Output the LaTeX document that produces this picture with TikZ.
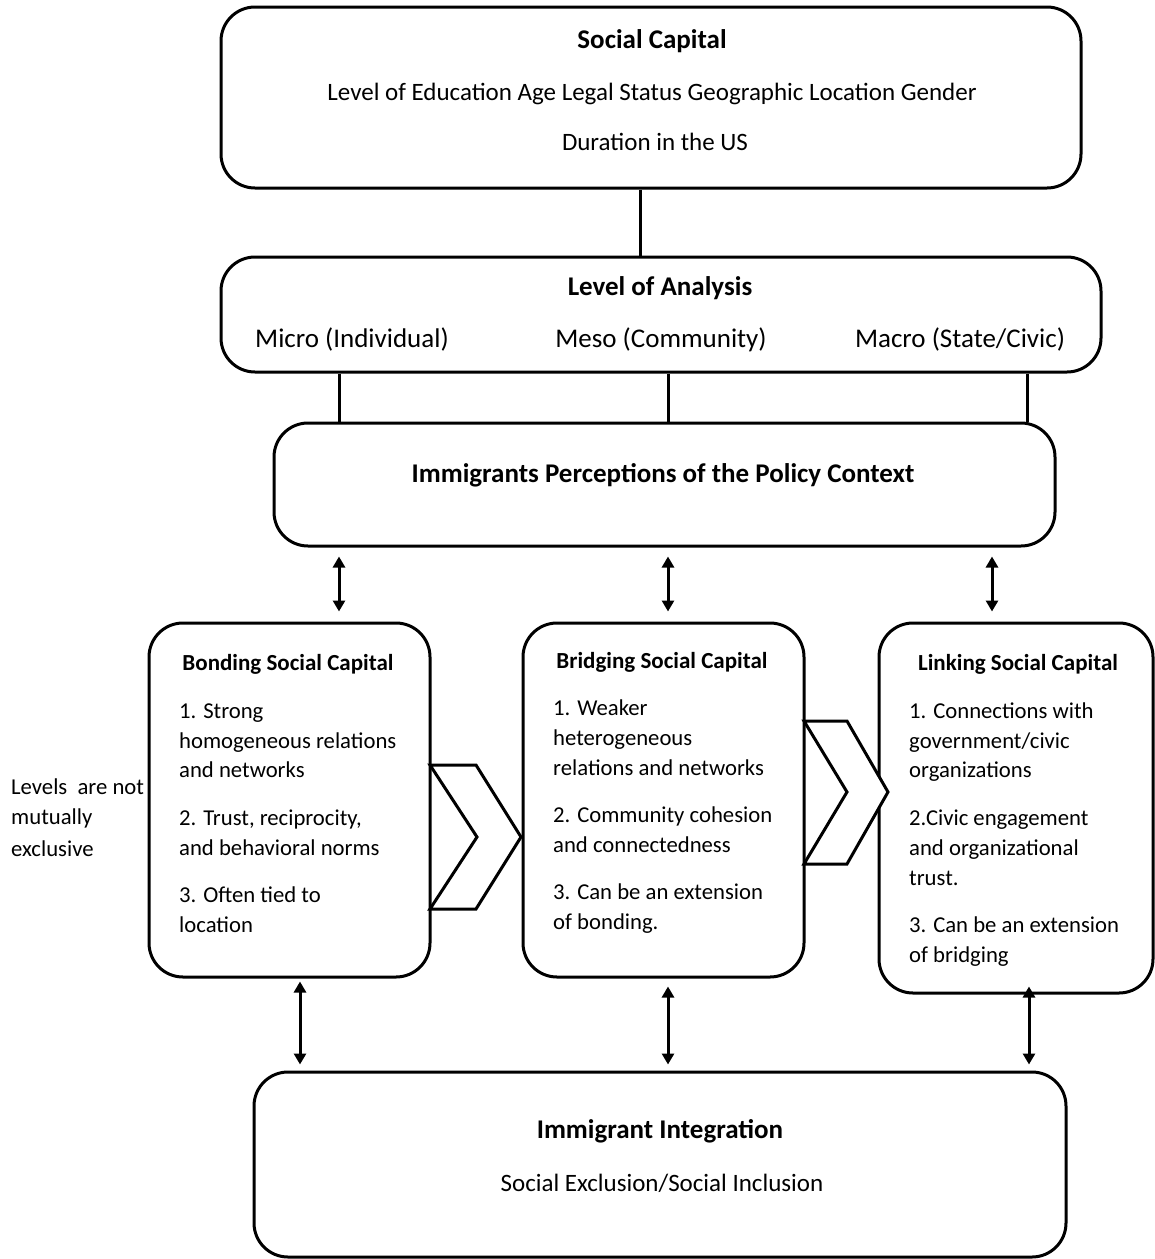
\documentclass[tikz,border=0pt]{standalone}
\usepackage{fontspec}
\setmainfont{Carlito}
\usetikzlibrary{arrows.meta}
\begin{document}
\begin{tikzpicture}[x=1pt,y=-1pt,
  box/.style={draw,line width=3pt,rounded corners=34pt,inner sep=0pt},
  ttl/.style={font=\fontsize{27}{32}\selectfont\bfseries,anchor=mid,inner sep=0pt,yshift=-5pt},
  sttl/.style={font=\fontsize{23}{28}\selectfont\bfseries,anchor=mid,inner sep=0pt,yshift=-5pt},
  txt/.style={font=\fontsize{25}{30}\selectfont,anchor=mid,inner sep=0pt,yshift=-5pt},
  lvl/.style={font=\fontsize{27}{32}\selectfont,anchor=mid,inner sep=0pt,yshift=-5pt},
  body/.style={font=\fontsize{22.7}{27}\selectfont,anchor=mid west,inner sep=0pt,yshift=-5pt},
  conn/.style={line width=3pt},
  dbl/.style={line width=3pt,{Triangle[length=11pt,width=12pt]}-{Triangle[length=11pt,width=12pt]}},
  chev/.style={line width=3pt,line join=miter,fill=white}
]
\useasboundingbox (0,0) rectangle (1155,1259);

% boxes
\node[box,minimum width=860pt,minimum height=181pt] (sc) at (651,97.5) {};
\node[box,minimum width=880pt,minimum height=115pt] (loa) at (661,314.5) {};
\node[box,minimum width=781pt,minimum height=123pt] (perc) at (664.5,484.5) {};
\node[box,minimum width=281pt,minimum height=354pt] (bond) at (289.5,800) {};
\node[box,minimum width=281pt,minimum height=354pt] (brid) at (663.5,800) {};
\node[box,minimum width=274pt,minimum height=370pt] (link) at (1016,808) {};
\node[box,minimum width=812pt,minimum height=185pt] (integ) at (660,1164.5) {};

% texts top
\node[ttl] (sct) at (652,41) {Social Capital};
\node[txt] (sc1) at (652,93) {Level of Education Age Legal Status Geographic Location Gender};
\node[txt] (sc2) at (655,143) {Duration in the US};
\node[ttl] (loat) at (660,288) {Level of Analysis};
\node[lvl] (micro) at (352,340) {Micro (Individual)};
\node[lvl] (meso) at (661,340) {Meso (Community)};
\node[lvl] (macro) at (960,340) {Macro (State/Civic)};
\node[ttl] (perct) at (663,475) {Immigrants Perceptions of the Policy Context};
\node[ttl] (integt) at (660,1131) {Immigrant Integration};
\node[txt] (integs) at (662,1184) {Social Exclusion/Social Inclusion};

% left note
\node[body] (n1) at (11,787) {Levels\ \ are not};
\node[body] (n2) at (11,817) {mutually};
\node[body] (n3) at (11,849) {exclusive};

% bonding
\node[sttl] (bondt) at (288,663) {Bonding Social Capital};
\node[body] (b1) at (179,711) {1. Strong};
\node[body] (b2) at (179,741) {homogeneous relations};
\node[body] (b3) at (179,770) {and networks};
\node[body] (b4) at (179,818) {2. Trust, reciprocity,};
\node[body] (b5) at (179,848) {and behavioral norms};
\node[body] (b6) at (179,895) {3. Often tied to};
\node[body] (b7) at (179,925) {location};

% bridging
\node[sttl] (bridt) at (662,661) {Bridging Social Capital};
\node[body] (r1) at (553,708) {1. Weaker};
\node[body] (r2) at (553,738) {heterogeneous};
\node[body] (r3) at (553,768) {relations and networks};
\node[body] (r4) at (553,815) {2. Community cohesion};
\node[body] (r5) at (553,845) {and connectedness};
\node[body] (r6) at (553,892) {3. Can be an extension};
\node[body] (r7) at (553,922) {of bonding.};

% linking
\node[sttl] (linkt) at (1018,663) {Linking Social Capital};
\node[body] (l1) at (909,711) {1. Connections with};
\node[body] (l2) at (909,741) {government/civic};
\node[body] (l3) at (909,770) {organizations};
\node[body] (l4) at (909,818) {2.Civic engagement};
\node[body] (l5) at (909,848) {and organizational};
\node[body] (l6) at (909,878) {trust.};
\node[body] (l7) at (909,925) {3. Can be an extension};
\node[body] (l8) at (909,955) {of bridging};

% connector lines
\coordinate (xa) at (640,0);
\coordinate (x1) at (339,0);
\coordinate (x2) at (668,0);
\coordinate (x3) at (1027,0);
\draw[conn] (sc.south -| xa) -- (loa.north -| xa);
\draw[conn] (loa.south -| x1) -- (perc.north -| x1);
\draw[conn] (loa.south -| x2) -- (perc.north -| x2);
\draw[conn] (loa.south -| x3) -- (perc.north -| x3);

% double arrows upper
\coordinate (y1) at (992,0);
\draw[dbl,shorten <=9pt,shorten >=10pt] (perc.south -| x1) -- (bond.north -| x1);
\draw[dbl,shorten <=9pt,shorten >=10pt] (perc.south -| x2) -- (brid.north -| x2);
\draw[dbl,shorten <=9pt,shorten >=10pt] (perc.south -| y1) -- (link.north -| y1);

% double arrows lower
\coordinate (z1) at (300,0);
\coordinate (z3) at (1029,0);
\draw[dbl,shorten <=3pt,shorten >=6pt] (bond.south -| z1) -- (integ.north -| z1);
\draw[dbl,shorten <=8pt,shorten >=6pt] (brid.south -| x2) -- (integ.north -| x2);
\draw[dbl,shorten <=-8pt,shorten >=6pt] (link.south -| z3) -- (integ.north -| z3);

% chevrons
\draw[chev] (430,765) -- (476,765) -- (521,837) -- (476,909) -- (430,909) -- (477,837) -- cycle;
\draw[chev] (804,721) -- (847,721) -- (888,792) -- (847,864) -- (804,864) -- (847,792) -- cycle;
\end{tikzpicture}
\end{document}
